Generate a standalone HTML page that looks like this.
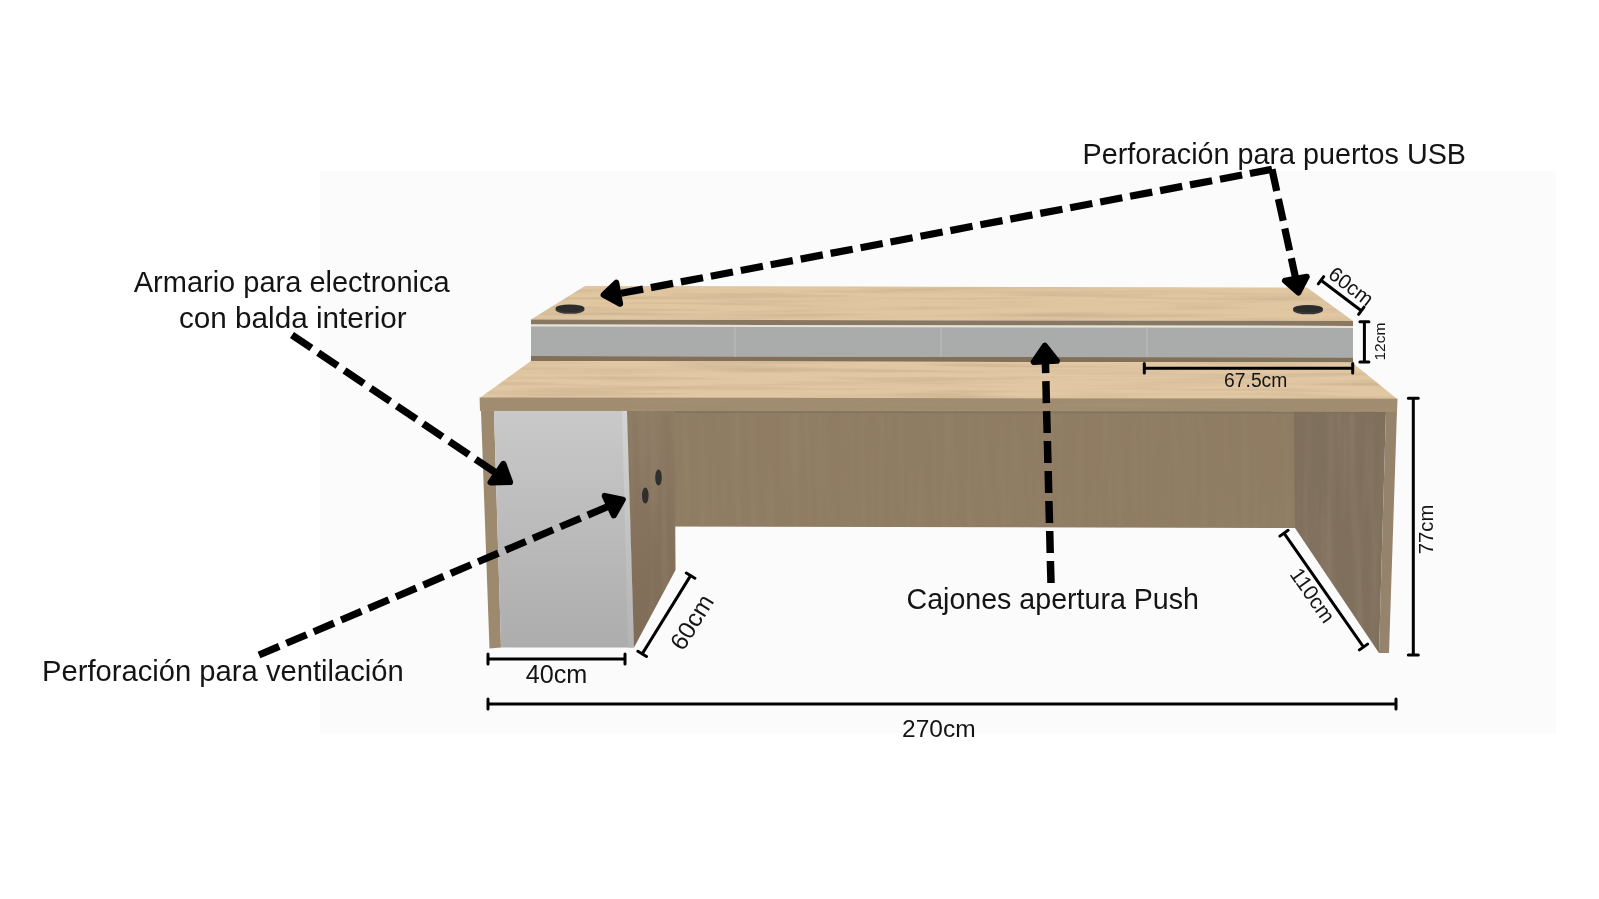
<!DOCTYPE html>
<html><head><meta charset="utf-8"><title>Escritorio</title>
<style>html,body{margin:0;padding:0;background:#fff;width:1599px;height:899px;overflow:hidden;font-family:"Liberation Sans",sans-serif}</style>
</head><body>
<svg width="1599" height="899" viewBox="0 0 1599 899" style="display:block;will-change:transform;font-family:'Liberation Sans',sans-serif">
<defs>
<filter id="grainH" x="0" y="0" width="100%" height="100%" filterUnits="userSpaceOnUse">
<feTurbulence type="fractalNoise" baseFrequency="0.006 0.22" numOctaves="2" seed="3"/>
<feColorMatrix values="0 0 0 0 0.45  0 0 0 0 0.33  0 0 0 0 0.2  0.9 0 0 0 -0.38"/>
</filter>
<filter id="grainV" x="0" y="0" width="100%" height="100%" filterUnits="userSpaceOnUse">
<feTurbulence type="fractalNoise" baseFrequency="0.12 0.006" numOctaves="2" seed="7"/>
<feColorMatrix values="0 0 0 0 0.3  0 0 0 0 0.24  0 0 0 0 0.16  0.9 0 0 0 -0.36"/>
</filter>
<linearGradient id="gcab" x1="0" y1="0" x2="0" y2="1">
<stop offset="0" stop-color="#c9c9c9"/><stop offset="1" stop-color="#adadad"/></linearGradient>
<linearGradient id="gdoor" x1="0" y1="0" x2="0" y2="1"><stop offset="0" stop-color="#d4d4d4"/><stop offset="1" stop-color="#b3b3b3"/></linearGradient>
<linearGradient id="gsideL" x1="0" y1="0" x2="0" y2="1"><stop offset="0" stop-color="#8c7962"/><stop offset="1" stop-color="#7e6c58"/></linearGradient>
<clipPath id="cTop1"><polygon points="585,286 1307,287.5 1353,321 531,319.5"/></clipPath>
<clipPath id="cTop2"><polygon points="531,361 1352,362.5 1397.5,399.2 479.6,398"/></clipPath>
<clipPath id="cMod"><polygon points="673,411 1295,411.5 1295,528 673,526.5"/></clipPath>
<clipPath id="cSideR"><polygon points="1294,411.5 1386,411.5 1379,653 1295,528"/></clipPath>
<clipPath id="cSideL"><polygon points="627,411 674.5,411 675.5,570 634,647.5"/></clipPath>
<clipPath id="cEdge"><polygon points="479.6,398 1397.5,399.2 1397,412 480,411"/></clipPath>
</defs>
<rect x="320" y="171" width="1236" height="562.5" fill="#fbfbfb"/>
<polygon points="585,286 1307,287.5 1353,321 531,319.5" fill="#e0c6a1" />
<rect x="520" y="280" width="850" height="45" filter="url(#grainH)" clip-path="url(#cTop1)"/>
<polygon points="531,319.5 1353,321 1353,326 531,324.5" fill="#8a7760" />
<polygon points="531,324.5 1353,326 1353,357.5 531,356" fill="#aaabab" />
<polygon points="531,324.5 1353,326 1353,328 531,326.5" fill="#e6e2da" />
<polygon points="531,356 1353,357.5 1353,362.5 531,361" fill="#826f58" />
<line x1="735" y1="327" x2="735" y2="357" stroke="#bdbdbd" stroke-width="1"/>
<line x1="941" y1="327" x2="941" y2="357" stroke="#bdbdbd" stroke-width="1"/>
<line x1="1147" y1="327" x2="1147" y2="357" stroke="#bdbdbd" stroke-width="1"/>
<polygon points="531,361 1352,362.5 1397.5,399.2 479.6,398" fill="#e1c7a3" />
<rect x="470" y="355" width="940" height="50" filter="url(#grainH)" clip-path="url(#cTop2)"/>
<polygon points="673,409 1295,409.5 1295,528 673,526.5" fill="#8f7c62" />
<rect x="670" y="405" width="630" height="130" filter="url(#grainV)" clip-path="url(#cMod)"/>
<polygon points="1294,409.5 1386,409.5 1379,653 1295,528" fill="#7f6f5d" />
<rect x="1290" y="405" width="100" height="250" filter="url(#grainV)" clip-path="url(#cSideR)"/>
<polygon points="1386,409.5 1397,409.5 1389,653 1379,653" fill="#95836b" />
<polygon points="479.6,397.5 1397.5,398.7 1397,412 480,411" fill="#a08c70" />
<rect x="470" y="395" width="940" height="20" filter="url(#grainH)" clip-path="url(#cEdge)" opacity="0.6"/>
<polygon points="675,411 1386,411.5 1386,413.5 675,413" fill="#7f6e58" opacity="0.6"/>
<polygon points="481,411 494,411 501,647.5 489.5,648.5" fill="#9c896e" />
<polygon points="494,411 627,411 634,647.5 501,647.5" fill="url(#gcab)" />
<polygon points="622,411 627,411 634,647.5 628,647.5" fill="url(#gdoor)" />
<polygon points="627,411 674.5,411 675.5,570 634,647.5" fill="url(#gsideL)" />
<rect x="620" y="405" width="60" height="250" filter="url(#grainV)" clip-path="url(#cSideL)"/>
<ellipse cx="658.5" cy="477.5" rx="3.3" ry="8" fill="#2f2f2f"/>
<ellipse cx="645.3" cy="495.6" rx="3.3" ry="8" fill="#2f2f2f"/>
<ellipse cx="570" cy="309.8" rx="14.5" ry="4" fill="#3a3a3a"/><ellipse cx="570" cy="308.3" rx="14.5" ry="3.8" fill="#2c2c2c"/>
<ellipse cx="1308" cy="310.3" rx="15" ry="4" fill="#3a3a3a"/><ellipse cx="1308" cy="308.8" rx="15" ry="3.8" fill="#2c2c2c"/>
<path d="M1144.3,368.3L1352.7,368.3M1144.3,373.1L1144.3,363.6M1352.7,373.1L1352.7,363.6" stroke="#000" stroke-width="3" stroke-linecap="round" fill="none"/>
<path d="M1364.4,321.7L1364.4,362M1359.9,321.7L1368.9,321.7M1359.9,362L1368.9,362" stroke="#000" stroke-width="3" stroke-linecap="round" fill="none"/>
<path d="M1321,280.2L1361.3,310.7M1318.3,283.8L1323.7,276.6M1358.6,314.3L1364,307.1" stroke="#000" stroke-width="3" stroke-linecap="round" fill="none"/>
<path d="M1413.3,398.3L1413.3,655M1408.3,398.3L1418.3,398.3M1408.3,655L1418.3,655" stroke="#000" stroke-width="3" stroke-linecap="round" fill="none"/>
<path d="M1284,533.2L1363.5,647M1279.9,536.1L1288.1,530.3M1359.4,649.9L1367.6,644.1" stroke="#000" stroke-width="3" stroke-linecap="round" fill="none"/>
<path d="M690.6,575.6L642.2,653.9M686.3,573L694.9,578.2M637.9,651.3L646.5,656.5" stroke="#000" stroke-width="3" stroke-linecap="round" fill="none"/>
<path d="M488,659L625,659M488,664L488,654M625,664L625,654" stroke="#000" stroke-width="3" stroke-linecap="round" fill="none"/>
<path d="M488,704L1396,704M488,709L488,699M1396,709L1396,699" stroke="#000" stroke-width="3" stroke-linecap="round" fill="none"/>
<path d="M1272,169.3L1249.9,173.5M1242.1,175L1220,179.2M1212.1,180.7L1190,184.9M1182.2,186.4L1160.1,190.6M1152.2,192.1L1130.1,196.3M1122.3,197.8L1100.2,202M1092.3,203.5L1070.2,207.7M1062.4,209.2L1040.3,213.4M1032.4,214.9L1010.3,219.1M1002.5,220.6L980.4,224.8M972.5,226.3L950.4,230.6M942.6,232L920.5,236.3M912.6,237.8L890.5,242M882.7,243.5L860.6,247.7M852.7,249.2L830.6,253.4M822.8,254.9L800.7,259.1M792.8,260.6L770.7,264.8M762.9,266.3L740.8,270.5M732.9,272L710.8,276.2M703,277.7L680.9,281.9M673,283.4L650.9,287.6M643.1,289.1L621,293.3" fill="none" stroke="#000" stroke-width="7.2"/>
<polygon points="603.6,294.9 616.3,282.7 620.1,303.8" fill="#000" stroke="#000" stroke-width="6" stroke-linejoin="round"/>
<path d="M1272,169.3L1276.7,191.1M1278.4,198.9L1283.2,220.8M1284.8,228.5L1289.6,250.4M1291.3,258.2L1296,280" fill="none" stroke="#000" stroke-width="7.2"/>
<polygon points="1298.4,292.6 1285,280.8 1306.8,276.7" fill="#000" stroke="#000" stroke-width="6" stroke-linejoin="round"/>
<path d="M292,335L311.4,348.1M318.2,352.7L337.6,365.8M344.5,370.5L363.8,383.6M370.7,388.2L390.1,401.3M396.9,406L416.3,419.1M423.2,423.7L442.5,436.8M449.4,441.5L468.8,454.6M475.6,459.2L495,472.3" fill="none" stroke="#000" stroke-width="7.2"/>
<polygon points="510.1,482.1 503.4,463.8 490.5,482.4" fill="#000" stroke="#000" stroke-width="6" stroke-linejoin="round"/>
<path d="M259,655L279.2,646.4M286.4,643.3L306.6,634.7M313.8,631.7L334,623.1M341.2,620L361.4,611.4M368.6,608.4L388.8,599.8M396,596.7L416.2,588.1M423.4,585.1L443.6,576.4M450.8,573.4L471,564.8M478.2,561.7L498.4,553.1M505.6,550.1L525.8,541.5M533,538.4L553.2,529.8M560.4,526.8L580.6,518.2M587.8,515.1L608,506.5" fill="none" stroke="#000" stroke-width="7.2"/>
<polygon points="622.8,499.6 604.7,495.9 613.8,515.4" fill="#000" stroke="#000" stroke-width="6" stroke-linejoin="round"/>
<path d="M1051,583L1050.4,561M1050.2,553L1049.7,531M1049.5,523L1048.9,501M1048.7,493L1048.2,471M1047.9,463L1047.4,441M1047.2,433L1046.6,411.1M1046.4,403.1L1045.9,381.1M1045.7,373.1L1045.4,363" fill="none" stroke="#000" stroke-width="7.5"/>
<polygon points="1044.8,345.6 1033.7,362 1056.9,360.8" fill="#000" stroke="#000" stroke-width="6" stroke-linejoin="round"/>
<text x="1082.5" y="163.7" font-size="28.75" text-anchor="start" fill="#141414">Perforación para puertos USB</text>
<text x="291.7" y="291.9" font-size="29" text-anchor="middle" fill="#141414">Armario para electronica</text>
<text x="292.8" y="328" font-size="29.7" text-anchor="middle" fill="#141414">con balda interior</text>
<text x="42" y="680.5" font-size="29.2" text-anchor="start" fill="#141414">Perforación para ventilación</text>
<text x="906.5" y="609" font-size="28.6" text-anchor="start" fill="#141414">Cajones apertura Push</text>
<text x="938.8" y="737" font-size="24.5" text-anchor="middle" fill="#141414">270cm</text>
<text x="556.5" y="683" font-size="25.2" text-anchor="middle" fill="#141414">40cm</text>
<text x="1255.7" y="386.5" font-size="19.3" text-anchor="middle" fill="#141414">67.5cm</text>
<text x="1385.2" y="341.6" font-size="15.5" text-anchor="middle" fill="#141414" transform="rotate(-90 1385.2 341.6)">12cm</text>
<text x="1432.5" y="529.5" font-size="20.3" text-anchor="middle" fill="#141414" transform="rotate(-90 1432.5 529.5)">77cm</text>
<text x="1346.8" y="291.9" font-size="20.4" text-anchor="middle" fill="#141414" transform="rotate(37.1 1346.8 291.9)">60cm</text>
<text x="1306.7" y="599.4" font-size="21" text-anchor="middle" fill="#141414" transform="rotate(55 1306.7 599.4)">110cm</text>
<text x="699" y="626.5" font-size="24.5" text-anchor="middle" fill="#141414" transform="rotate(-58.3 699 626.5)">60cm</text>
</svg>
</body></html>
